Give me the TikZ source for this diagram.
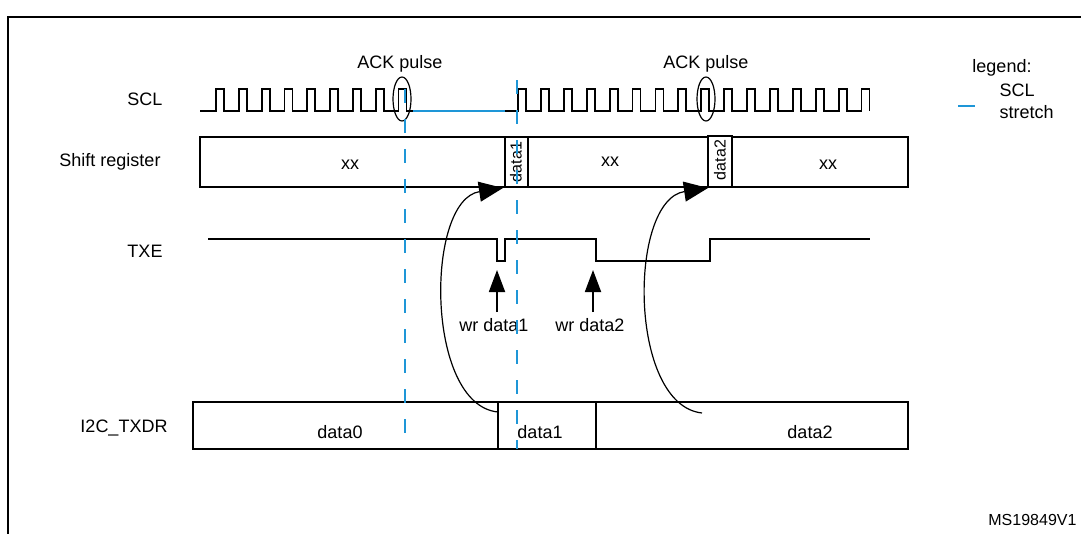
\documentclass[tikz,border=0pt]{standalone}
\usepackage{fontspec}
\setmainfont{Liberation Sans}
\usetikzlibrary{arrows.meta}
\definecolor{stretch}{RGB}{30,150,215}
\begin{document}
\begin{tikzpicture}[x=1pt,y=-1pt,
  sig/.style={line width=1.8pt},
  box/.style={draw,line width=1.7pt},
  lbl/.style={font=\fontsize{18}{22}\selectfont},
  bluedash/.style={stretch,line width=1.8pt,dash pattern=on 14pt off 16pt},
  bigarr/.style={-{Triangle[length=24pt,width=20pt]},line width=1.2pt},
  uparr/.style={-{Triangle[length=22pt,width=16pt]},line width=1.8pt}]
\useasboundingbox (0,0) rectangle (1081,533);
\clip (0,0) rectangle (1081,533);
\draw[line width=1.7pt] (8,560) -- (8,17) -- (1100,17);
% labels
\node[lbl] (lscl) at (145,99) {SCL};
\node[lbl] (lsr) at (110,162) {Shift register};
\node[lbl] (ltxe) at (145,251) {TXE};
\node[lbl] (ltx) at (124,428) {I2C\_TXDR};
\node[lbl] (ack1) at (400,64) {ACK pulse};
\node[lbl] (ack2) at (706,64) {ACK pulse};
\node[lbl] (leg) at (1002,68) {legend:};
\node[lbl,align=left,anchor=west] (legt) at (996,101) {SCL\\stretch};
\coordinate (la) at (958,106); \coordinate (lb) at (975,106);
\draw[stretch,line width=1.8pt] (la) -- (lb);
\node[lbl,font=\fontsize{16}{18}\selectfont,anchor=east] (ms) at (1080,520) {MS19849V1};
% SCL
\draw[sig] (200,111)
  \foreach \i in {0,...,8} { -- ({216+22.8*\i},111) -- ({216+22.8*\i},89) -- ({224+22.8*\i},89) -- ({224+22.8*\i},111) }
  -- (413,111);
\draw[stretch,line width=1.8pt] (413,111) -- (505,111);
\draw[sig] (505,111) -- (518,111)
  \foreach \i in {0,...,15} { -- ({518+22.9*\i},111) -- ({518+22.9*\i},89) -- ({526+22.9*\i},89) -- ({526+22.9*\i},111) };
\draw[line width=1.2pt] (402,99) ellipse (9 and 22);
\draw[line width=1.2pt] (706,99) ellipse (9 and 22);
% shift register
\draw[box] (200,137) rectangle (505,187);
\draw[box] (505,137) rectangle (528,187);
\draw[box] (528,137) rectangle (708,187);
\draw[box] (708,136) rectangle (732,187);
\draw[box] (732,137) rectangle (908,187);
\node[lbl] (sx1) at (350,165) {xx};
\node[lbl] (sx2) at (610,162) {xx};
\node[lbl] (sx3) at (828,165) {xx};
\node[lbl,font=\fontsize{16}{18}\selectfont,rotate=90] (sd1) at (516,162) {data1};
\node[lbl,font=\fontsize{16}{18}\selectfont,rotate=90] (sd2) at (720,160) {data2};
% TXE
\draw[sig] (208,239) -- (497,239) -- (497,261) -- (505,261) -- (505,239) -- (596,239) -- (596,261) -- (710,261) -- (710,239) -- (870,239);
\coordinate (w1) at (497,312); \coordinate (w1t) at (497,270);
\coordinate (w2) at (593,312); \coordinate (w2t) at (593,270);
\draw[uparr] (w1) -- (w1t);
\draw[uparr] (w2) -- (w2t);
\node[lbl] (wr1) at (494,325) {wr data1};
\node[lbl] (wr2) at (590,325) {wr data2};
% TXDR
\draw[box] (193,402) rectangle (908,449);
\draw[box] (498,402) -- (498,449);
\draw[box] (596,402) -- (596,449);
\node[lbl] (t0) at (340,432) {data0};
\node[lbl] (t1) at (540,432) {data1};
\node[lbl] (t2) at (810,432) {data2};
% curved arrows
\coordinate (c1s) at (498,412); \coordinate (c1e) at (503,188);
\coordinate (c2s) at (702,413); \coordinate (c2e) at (708,188);
\draw[bigarr] (c1s) .. controls (425,405) and (425,200) .. (c1e);
\draw[bigarr] (c2s) .. controls (628,405) and (628,200) .. (c2e);
% blue dashed
\draw[bluedash] (405,89) -- (405,449);
\draw[bluedash] (517,80) -- (517,449);
\end{tikzpicture}
\end{document}
